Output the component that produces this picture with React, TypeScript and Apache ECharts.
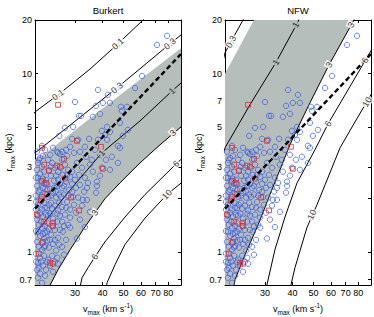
import React, { useEffect, useRef } from "react";
import * as echarts from "echarts";

type P = [number, number];

const panelTitles = ["Burkert", "NFW"];
const xTickValues = [30, 40, 50, 60, 70, 80];
const yTickValues = [0.7, 1, 2, 3, 5, 7, 10, 20];
const vMaxRange: P = [19.7, 91.4];
const rMaxRange: P = [0.653, 20];

// thick dashed relation (same in both panels)
const fitLine: P[] = [[19.7, 1.75], [91.4, 12.9]];

// Burkert panel contours
const burkert01: P[] = [[19.2, 5.85], [19.7, 6.1], [25.1, 7.61], [35.1, 10.6], [47.1, 14.7], [61.3, 20], [70, 23.5]];
const burkert03: P[] = [[19.7, 3.6], [21.4, 3.89], [46.6, 8.32], [81.4, 14.7], [91.4, 16.5], [95, 17.2]];
const burkert1: P[] = [[19.7, 1.25], [20.8, 1.37], [28.5, 2.23], [39.8, 3.6], [59.4, 5.43], [83.2, 8.0], [91.4, 8.87]];
const burkert3: P[] = [[22.4, 0.576], [23.1, 0.653], [25.1, 0.795], [28.5, 1.03], [32.6, 1.33], [37.0, 1.66], [41.1, 1.99], [48.1, 2.44], [59.4, 3.16], [73.3, 3.99], [91.4, 5.03]];
const burkert6: P[] = [[31.3, 0.599], [32.3, 0.717], [34.4, 0.816], [37.0, 0.94], [41.1, 1.14], [50.7, 1.57], [62.6, 2.1], [73.3, 2.54], [86.8, 3.12], [95.4, 3.46]];
const burkert10: P[] = [[41.5, 0.599], [42.0, 0.672], [45.7, 0.849], [50.7, 1.1], [62.6, 1.55], [78.9, 2.1], [95.4, 2.54]];
const burkertBandEdge: P[] = [[19.7, 3.29], [23.1, 3.74], [43.3, 6.86], [91.4, 13.9]];
const burkertLabels: [string, number, number][] = [
  ["0.1", 25.1, 7.61], ["0.1", 47.1, 14.7],
  ["0.3", 46.6, 8.32], ["0.3", 81.4, 14.7],
  ["1", 39.8, 3.6], ["1", 83.2, 8.0],
  ["3", 37.0, 1.66], ["3", 84.0, 4.66],
  ["6", 37.0, 0.94], ["6", 86.8, 3.12],
  ["10", 78.9, 2.1],
];

// NFW panel contours
const nfw03: P[] = [[19.25, 11.6], [19.7, 13.1], [23.8, 20], [25.4, 23.0]];
const nfw1: P[] = [[19.25, 3.44], [19.7, 3.84], [25.6, 6.69], [33.7, 11.6], [42.4, 19.5], [43.8, 21.6]];
const nfw3: P[] = [[77.3, 20.5], [58.8, 11.2], [48.1, 6.86], [41.5, 4.72], [39.0, 3.99], [31.6, 2.1], [27.9, 1.42], [24.3, 0.965], [21.9, 0.7], [21.4, 0.599]];
const nfw6: P[] = [[95.4, 14.7], [89.6, 12.9], [58.2, 5.23], [50.7, 3.74], [42.0, 2.44], [37.0, 1.57], [33.3, 1.03], [30.6, 0.653], [30.3, 0.599]];
const nfw10: P[] = [[96.4, 8.54], [92.4, 7.8], [77.3, 5.37], [66.0, 3.84], [56.4, 2.38], [51.8, 1.84], [46.6, 1.37], [41.1, 0.816], [39.4, 0.653], [39.0, 0.599]];
const nfwBandEdge: P[] = [[19.7, 10], [26.7, 20]];
const nfwLabels: [string, number, number][] = [
  ["0.3", 21.0, 15.1],
  ["1", 33.7, 11.6], ["1", 41.5, 18.8],
  ["3", 74.1, 18.8], ["3", 58.8, 11.2],
  ["6", 85.9, 11.9], ["6", 58.2, 5.23],
  ["10", 87.7, 6.94], ["10", 49.1, 1.62],
];

// galaxies (v_max km/s, r_max kpc)
const bluePoints: P[] = [
  [78.9, 16.3], [71.0, 14.5], [60.7, 9.71], [56.4, 8.31], [38.2, 8.11], [42.4, 7.61], [30.0, 6.94], [40.2, 6.86],
  [43.3, 6.86], [37.4, 6.6], [48.6, 6.52], [51.8, 6.52], [49.1, 6.19], [39.0, 5.95], [32.0, 5.8], [31.3, 5.8],
  [36.2, 5.73], [48.1, 5.3], [42.0, 5.03], [29.4, 5.03], [27.0, 4.97], [52.3, 4.84], [39.8, 4.78], [43.3, 4.72],
  [41.1, 4.54], [25.4, 4.48], [49.6, 4.48], [34.8, 4.31], [29.1, 4.31], [31.0, 4.26], [38.2, 4.26], [42.0, 4.26],
  [33.3, 3.89], [47.1, 3.94], [48.1, 3.84], [21.2, 3.94], [21.4, 3.46], [24.9, 3.65], [25.1, 3.6], [25.6, 3.55],
  [26.2, 3.65], [29.7, 3.6], [31.6, 3.65], [27.6, 3.46],
  [20.1, 3.65], [20.8, 3.37], [20.3, 3.16], [21.2, 3.01], [20.1, 2.89], [20.8, 2.75], [21.7, 2.82], [20.3, 2.61],
  [21.0, 2.48], [20.1, 2.35], [21.4, 2.29], [20.5, 2.18], [19.9, 2.07], [21.0, 1.99], [21.7, 1.89], [20.3, 1.84],
  [19.9, 1.73], [20.8, 1.66], [21.4, 1.58], [20.1, 1.52], [20.5, 1.42], [21.2, 1.37], [19.9, 1.31], [20.8, 1.23],
  [21.7, 1.19], [20.1, 1.14], [20.5, 1.07], [21.2, 1.03], [19.9, 0.978], [20.8, 0.928], [20.3, 0.871], [21.4, 0.838],
  [20.1, 0.795], [20.8, 0.755], [20.3, 0.717], [21.7, 0.953], [21.9, 1.08], [21.9, 1.28], [21.9, 1.77], [21.9, 2.12],
  [22.1, 2.54], [19.9, 0.882], [20.5, 0.816], [21.2, 1.12], [21.0, 1.48],
  [22.6, 3.29], [23.6, 3.16], [24.3, 2.97], [22.8, 2.86], [25.1, 2.82], [23.3, 2.68], [22.4, 2.41], [24.1, 2.51],
  [24.9, 2.35], [23.1, 2.26], [23.8, 2.15], [22.6, 2.04], [24.6, 2.02], [25.4, 2.1], [23.3, 1.89], [22.4, 1.77],
  [24.3, 1.82], [25.1, 1.71], [23.1, 1.64], [23.8, 1.54], [22.4, 1.46], [24.9, 1.48], [22.8, 1.35], [24.3, 1.33],
  [23.3, 1.25], [25.1, 1.2], [22.4, 1.16], [23.8, 1.11], [22.8, 1.06], [24.6, 1.02], [23.6, 0.953], [22.6, 0.905],
  [24.3, 0.882], [23.1, 0.838], [22.1, 0.795], [23.8, 0.775], [24.9, 0.928], [25.4, 1.1], [25.6, 1.33], [25.6, 1.6],
  [25.4, 1.89], [25.6, 2.41], [24.6, 2.68], [22.6, 1.6], [23.6, 1.4], [24.1, 2.29],
  [26.2, 3.29], [27.0, 3.09], [27.9, 2.89], [26.4, 2.71], [28.5, 2.64], [27.3, 2.48], [29.1, 2.41], [26.2, 2.29],
  [28.2, 2.23], [26.7, 2.1], [29.4, 2.04], [27.6, 1.91], [26.2, 1.79], [28.5, 1.73], [27.0, 1.62], [26.2, 1.48],
  [27.9, 1.42], [26.4, 1.3], [27.3, 1.17], [26.2, 1.07], [28.5, 1.56], [29.7, 1.84], [29.1, 2.82], [30.0, 2.54],
  [26.7, 0.965],
  [30.6, 3.16], [32.3, 2.97], [31.3, 2.71], [33.3, 2.61], [34.4, 2.44], [31.6, 2.38], [33.0, 2.18], [31.0, 2.02],
  [34.0, 1.96], [32.3, 1.82], [30.3, 1.66], [31.6, 1.52], [30.6, 1.19], [35.1, 3.09], [36.2, 2.82], [33.7, 3.42],
  [35.8, 3.29],
  [37.8, 2.48], [37.8, 2.35], [37.4, 2.15], [34.0, 2.29], [47.1, 3.16], [39.8, 2.97], [39.0, 2.68], [41.5, 3.29],
  [44.2, 3.42], [37.0, 3.74], [39.0, 3.51], [43.3, 2.89], [33.3, 1.38], [35.1, 1.68],
  [21.9, 3.74], [23.1, 3.51], [27.3, 3.74], [28.5, 3.89], [23.8, 3.84],
  [20.5, 3.29], [21.4, 2.58], [22.4, 2.23], [23.3, 2.07], [19.9, 1.91], [22.1, 1.62], [20.3, 1.3], [21.4, 1.26],
  [22.4, 1.3], [23.1, 1.17], [21.7, 1.06], [21.0, 0.882], [22.4, 0.882], [24.3, 1.17], [24.9, 1.64], [23.6, 1.75],
  [25.9, 2.04], [24.6, 2.18], [26.7, 2.35], [25.1, 2.54], [23.3, 3.01], [25.9, 2.97], [27.6, 2.71], [21.2, 1.73],
  [20.3, 1.6], [21.9, 1.4], [20.8, 2.23], [21.7, 2.41], [19.9, 2.61], [22.8, 1.84], [29.1, 2.18], [27.9, 2.07],
  [30.3, 2.29], [32.6, 1.96], [27.3, 1.77], [28.5, 1.37], [26.7, 1.4], [25.1, 0.86], [21.9, 0.736], [21.2, 0.672],
];
const redPoints: P[] = [
  [25.1, 6.69], [30.6, 4.2], [39.4, 3.89], [21.2, 3.84], [26.7, 3.33], [21.7, 3.09], [24.9, 3.05], [25.6, 3.01],
  [22.8, 2.86], [40.2, 2.93], [27.0, 2.58], [21.2, 2.51], [22.1, 2.44], [22.4, 2.12], [21.2, 2.04], [21.0, 1.94],
  [28.8, 2.02], [31.3, 1.71], [20.1, 1.62], [21.7, 1.48], [23.8, 1.46], [23.8, 1.4], [21.4, 1.14], [20.5, 0.978],
  [23.1, 0.871], [23.8, 0.86],
];

const GREY = "#b5beba";
const BLUE = "#3559ea";
const RED = "#e3262b";
const FONT = "'Liberation Sans', Arial, Helvetica, sans-serif";

const GRID_W = 146;
const GRID_H = 265;
const gridLefts = [35, 225];
const GRID_TOP = 20;

const lg = (p: P): number[] => [Math.log10(p[0]), Math.log10(p[1])];
const kx = GRID_W / (Math.log10(vMaxRange[1]) - Math.log10(vMaxRange[0]));
const ky = GRID_H / (Math.log10(rMaxRange[1]) - Math.log10(rMaxRange[0]));

function angleAt(line: P[], v: number, r: number): number {
  const X = Math.log10(v) * kx;
  const Y = Math.log10(r) * ky;
  let best = Infinity;
  let ang = 0;
  for (let i = 0; i < line.length - 1; i++) {
    const x1 = Math.log10(line[i][0]) * kx, y1 = Math.log10(line[i][1]) * ky;
    const x2 = Math.log10(line[i + 1][0]) * kx, y2 = Math.log10(line[i + 1][1]) * ky;
    const dx = x2 - x1, dy = y2 - y1;
    const len2 = dx * dx + dy * dy || 1;
    let t = ((X - x1) * dx + (Y - y1) * dy) / len2;
    t = Math.max(0, Math.min(1, t));
    const px = x1 + t * dx, py = y1 + t * dy;
    const d = (X - px) ** 2 + (Y - py) ** 2;
    if (d < best) {
      best = d;
      let a = (Math.atan2(dy, dx) * 180) / Math.PI;
      if (a > 90) a -= 180;
      if (a < -90) a += 180;
      ang = a;
    }
  }
  return ang;
}

function clipPoly(pts: number[][], b: number[]): number[][] {
  const tests = [
    { inside: (p: number[]) => p[0] >= b[0], inter: (a: number[], c: number[]) => { const t = (b[0] - a[0]) / (c[0] - a[0]); return [b[0], a[1] + t * (c[1] - a[1])]; } },
    { inside: (p: number[]) => p[0] <= b[1], inter: (a: number[], c: number[]) => { const t = (b[1] - a[0]) / (c[0] - a[0]); return [b[1], a[1] + t * (c[1] - a[1])]; } },
    { inside: (p: number[]) => p[1] >= b[2], inter: (a: number[], c: number[]) => { const t = (b[2] - a[1]) / (c[1] - a[1]); return [a[0] + t * (c[0] - a[0]), b[2]]; } },
    { inside: (p: number[]) => p[1] <= b[3], inter: (a: number[], c: number[]) => { const t = (b[3] - a[1]) / (c[1] - a[1]); return [a[0] + t * (c[0] - a[0]), b[3]]; } },
  ];
  let out = pts;
  for (const e of tests) {
    const inp = out;
    out = [];
    for (let i = 0; i < inp.length; i++) {
      const cur = inp[i];
      const prev = inp[(i + inp.length - 1) % inp.length];
      const ci = e.inside(cur), pi = e.inside(prev);
      if (ci) {
        if (!pi) out.push(e.inter(prev, cur));
        out.push(cur);
      } else if (pi) out.push(e.inter(prev, cur));
    }
  }
  return out;
}

const bounds = [Math.log10(vMaxRange[0]), Math.log10(vMaxRange[1]), Math.log10(rMaxRange[0]), Math.log10(rMaxRange[1])];

function buildPanel(g: number, band: P[], lines: Record<string, P[]>, labels: [string, number, number][]) {
  const idx = g * 2;
  const bandLog = clipPoly(band.map(lg), bounds);
  const series: any[] = [];
  series.push({
    type: "custom",
    xAxisIndex: idx,
    yAxisIndex: idx,
    silent: true,
    clip: true,
    data: [[Math.log10(30), Math.log10(2)]],
    renderItem: (_p: any, api: any) => ({
      type: "polygon",
      shape: { points: bandLog.map((p) => api.coord(p)) },
      style: { fill: GREY },
    }),
    z: 1,
  });
  Object.keys(lines).forEach((k) => {
    series.push({
      type: "line",
      xAxisIndex: idx,
      yAxisIndex: idx,
      data: lines[k].map(lg),
      symbol: "none",
      silent: true,
      clip: true,
      lineStyle: { color: "#000", width: 1 },
      z: 2,
    });
  });
  series.push({
    type: "scatter",
    xAxisIndex: idx,
    yAxisIndex: idx,
    data: bluePoints.map(lg),
    symbol: "circle",
    symbolSize: 5.4,
    silent: true,
    itemStyle: { color: "rgba(0,0,0,0)", borderColor: BLUE, borderWidth: 0.9 },
    z: 3,
  });
  series.push({
    type: "scatter",
    xAxisIndex: idx,
    yAxisIndex: idx,
    data: redPoints.map(lg),
    symbol: "rect",
    symbolSize: 4.8,
    silent: true,
    itemStyle: { color: "rgba(0,0,0,0)", borderColor: RED, borderWidth: 1 },
    z: 4,
  });
  series.push({
    type: "line",
    xAxisIndex: idx,
    yAxisIndex: idx,
    data: fitLine.map(lg),
    symbol: "none",
    silent: true,
    clip: true,
    lineStyle: { color: "#000", width: 2.4, type: [5, 3] },
    z: 5,
  });
  series.push({
    type: "scatter",
    xAxisIndex: idx,
    yAxisIndex: idx,
    symbolSize: 1,
    silent: true,
    itemStyle: { color: "rgba(0,0,0,0)" },
    data: labels.map(([t, v, r]) => ({
      name: t,
      value: lg([v, r]),
      label: {
        rotate: angleAt(lines[t], v, r),
        backgroundColor: t === "1" ? GREY : "#fff",
      },
    })),
    label: {
      show: true,
      position: "inside",
      formatter: "{b}",
      color: "#000",
      fontSize: 9,
      fontFamily: FONT,
      padding: [0, 1],
    },
    z: 6,
  });
  return series;
}

const fmt = (v: number) => String(Math.round(Math.pow(10, v) * 10) / 10);

const rich = {
  n: { fontSize: 9, lineHeight: 14, verticalAlign: "middle", color: "#000", fontFamily: FONT },
  s: { fontSize: 6.5, lineHeight: 8, verticalAlign: "bottom", color: "#000", fontFamily: FONT },
  p: { fontSize: 6.5, lineHeight: 8, verticalAlign: "top", color: "#000", fontFamily: FONT },
};

function makeAxes(g: number) {
  const lx = xTickValues.map(Math.log10);
  const ly = yTickValues.map(Math.log10);
  const common = {
    type: "value",
    gridIndex: g,
    splitLine: { show: false },
    axisLine: { show: true, onZero: false, lineStyle: { color: "#000", width: 1 } },
  };
  const xb = {
    ...common,
    min: bounds[0],
    max: bounds[1],
    axisTick: { show: true, inside: true, length: 3, customValues: lx, lineStyle: { color: "#000" } },
  };
  const yb = {
    ...common,
    min: bounds[2],
    max: bounds[3],
    axisTick: { show: true, inside: true, length: 3, customValues: ly, lineStyle: { color: "#000" } },
  };
  const xAxes = [
    {
      ...xb,
      position: "bottom",
      axisLabel: { show: true, customValues: lx, formatter: fmt, color: "#000", fontSize: 9, margin: 3, fontFamily: FONT },
      name: "{n|v}{s|max}{n| (km s}{p|-1}{n|)}",
      nameLocation: "middle",
      nameGap: 13,
      nameTextStyle: { rich },
    },
    { ...xb, position: "top", axisLabel: { show: false } },
  ];
  const yAxes = [
    {
      ...yb,
      position: "left",
      axisLabel: { show: true, customValues: ly, formatter: fmt, color: "#000", fontSize: 9, margin: 3, fontFamily: FONT },
      name: "{n|r}{s|max}{n| (kpc)}",
      nameLocation: "middle",
      nameRotate: 90,
      nameGap: 19,
      nameTextStyle: { rich },
    },
    { ...yb, position: "right", axisLabel: { show: false } },
  ];
  return { xAxes, yAxes };
}

export default function App() {
  const ref = useRef<HTMLDivElement>(null);
  useEffect(() => {
    if (!ref.current) return;
    const chart = echarts.init(ref.current, undefined, { renderer: "svg" });
    const a0 = makeAxes(0);
    const a1 = makeAxes(1);
    const series = [
      ...buildPanel(
        0,
        [[vMaxRange[0], burkert3[0][1]], ...burkertBandEdge, ...[...burkert3].reverse()],
        { "0.1": burkert01, "0.3": burkert03, "1": burkert1, "3": burkert3, "6": burkert6, "10": burkert10 },
        burkertLabels
      ),
      ...buildPanel(
        1,
        [[vMaxRange[0], nfw3[nfw3.length - 1][1]], ...nfwBandEdge, ...nfw3],
        { "0.3": nfw03, "1": nfw1, "3": nfw3, "6": nfw6, "10": nfw10 },
        nfwLabels
      ),
    ];
    chart.setOption({
      animation: false,
      backgroundColor: "#fff",
      textStyle: { fontFamily: FONT },
      grid: gridLefts.map((left) => ({
        left,
        top: GRID_TOP,
        width: GRID_W,
        height: GRID_H,
        containLabel: false,
        outerBoundsMode: "none",
      })),
      xAxis: [...a0.xAxes, ...a1.xAxes],
      yAxis: [...a0.yAxes, ...a1.yAxes],
      graphic: panelTitles.map((t, i) => ({
        type: "text",
        x: gridLefts[i] + GRID_W / 2,
        y: 10,
        style: {
          text: t,
          fontSize: 9.5,
          fontFamily: FONT,
          fill: "#000",
          align: "center",
          verticalAlign: "middle",
          textAlign: "center",
          textVerticalAlign: "middle",
        },
      })),
      series,
    });
    return () => chart.dispose();
  }, []);
  return (
    <div
      ref={ref}
      style={{ position: "fixed", left: 0, top: 0, width: 374, height: 317, background: "#fff" }}
    />
  );
}
